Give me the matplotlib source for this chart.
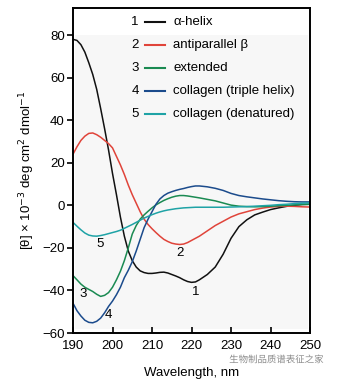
import matplotlib
matplotlib.use("Agg")
import matplotlib.pyplot as plt
import matplotlib.patheffects as pe
from matplotlib.lines import Line2D
from matplotlib.patches import Rectangle

plt.rcParams["font.family"] = ["Liberation Sans", "DejaVu Sans"]

# far-UV CD reference spectra, mean residue ellipticity (x 10^-3)
wavelength = list(range(190, 223)) + list(range(224, 251, 2))

alpha_helix = [78, 77.5, 75.5, 72, 67, 61.5, 54.5, 45.5, 36, 26, 15, 5, -5.5, -14.5,
               -21.5, -26, -29, -30.8, -31.6, -32, -32, -31.8, -31.5, -31.4, -31.8,
               -32.5, -33.2, -34, -35, -35.8, -36.2, -36, -35,
               -32.5, -29, -23, -15.5, -10, -6.8, -4.5, -3.2, -2, -1.2, -0.5, 0, 0.4, 0.5]
antiparallel = [24, 27.5, 30.5, 32.5, 33.8, 34, 33.2, 32, 30.5, 29, 27, 23, 19, 14.5,
                9.5, 5, 1, -3, -6.5, -9, -11, -12.8, -14.5, -16, -17, -17.8, -18.2,
                -18.4, -18.2, -17.5, -16.5, -15.5, -14.5,
                -12, -9.5, -7.5, -5.5, -4, -3, -2, -1.3, -0.8, -0.5, -0.4, -0.5, -0.7, -0.8]
extended = [-33, -35, -37, -38.5, -39.5, -40.5, -41.8, -42.8, -42.3, -41, -38.5, -35,
            -31, -26, -20, -13.5, -9.5, -6.5, -4.5, -2.8, -1.2, 0.2, 1.3, 2.3, 3.1,
            3.8, 4.3, 4.6, 4.6, 4.4, 4.1, 3.8, 3.5,
            2.8, 2.1, 1.1, 0.1, -0.4, -0.6, -0.7, -0.6, -0.4, -0.2, 0, 0.2, 0.4, 0.5]
collagen_triple = [-46, -49.5, -52, -54, -55, -55.2, -54.5, -53, -50.5, -47.5, -45,
                   -42, -38.5, -34, -30.5, -26.5, -21.5, -16, -10.5, -6.5, -3, 0.5,
                   3, 4.6, 5.7, 6.4, 7, 7.5, 7.9, 8.4, 8.8, 9.1, 9.1,
                   8.7, 8, 7, 5.6, 4.6, 4, 3.5, 3, 2.6, 2.2, 1.9, 1.7, 1.6, 1.6]
collagen_denat = [-8, -9.8, -11.5, -13, -14, -14.4, -14.5, -14.2, -13.8, -13.3, -12.8,
                  -12.3, -11.7, -10.8, -9.9, -9, -8, -7, -6, -5.2, -4.4, -3.7, -3.1,
                  -2.6, -2.2, -1.9, -1.6, -1.4, -1.2, -1.1, -1, -0.9, -0.9,
                  -0.9, -0.9, -0.9, -0.8, -0.7, -0.6, -0.4, -0.2, 0, 0.3, 0.5, 0.8, 1, 1.2]

series = [alpha_helix, antiparallel, extended, collagen_triple, collagen_denat]
names = ["\u03b1-helix", "antiparallel \u03b2", "extended",
         "collagen (triple helix)", "collagen (denatured)"]
colors = ["#111111", "#e0443a", "#1a8a52", "#1b4b8c", "#1fa3a6"]
# curve number tags placed next to each trace
tag_pos = [(221.1, -40.6), (217.1, -22.3), (192.6, -41.5), (198.9, -51.5), (196.8, -18.4)]

fig = plt.figure(figsize=(3.37, 3.84), dpi=100)
ax = fig.add_axes([0.2166, 0.1328, 0.7034, 0.8462])

ax.add_patch(Rectangle((190.4, -58), 59.2, 138, facecolor="#f7f7f7",
                       edgecolor="none", zorder=0))

for i, (vals, c) in enumerate(zip(series, colors)):
    ax.plot(wavelength, vals, color=c, linewidth=1.1, zorder=2)
    ax.text(*tag_pos[i], str(i + 1), fontsize=9.5, ha="center", va="center", zorder=3)

# numbered key, drawn by hand so the number sits before the line sample
rows = [0.957, 0.886, 0.815, 0.745, 0.674]
for i, (name, c) in enumerate(zip(names, colors)):
    y = rows[i]
    ax.text(0.262, y, str(i + 1), transform=ax.transAxes, fontsize=9.5,
            ha="center", va="center")
    ax.add_line(Line2D([0.304, 0.388], [y, y], transform=ax.transAxes,
                       color=c, linewidth=1.5))
    ax.text(0.422, y, name, transform=ax.transAxes, fontsize=9.5,
            ha="left", va="center")

ax.set_xlim(190, 250)
ax.set_ylim(-60, 92.7)
ax.set_xticks(range(190, 251, 10))
ax.set_yticks(range(-60, 81, 20))
ax.set_yticklabels([f"\u2212{-v}" if v < 0 else str(v) for v in range(-60, 81, 20)])
ax.tick_params(axis="x", direction="in", length=4, width=1.2, labelsize=9.5, pad=5)
ax.tick_params(axis="y", direction="out", length=4, width=1.2, labelsize=9.5, pad=2)
for s in ax.spines.values():
    s.set_linewidth(1.4)

ax.set_xlabel("Wavelength, nm", fontsize=9.5, labelpad=11)
ax.set_ylabel("[\u03b8] \u00d7 10$^{\u22123}$ deg cm$^2$ dmol$^{\u22121}$", fontsize=9.5,
              labelpad=4)

fig.text(0.68, 0.063, "\u751f\u7269\u5236\u54c1\u8d28\u8c31\u8868\u5f81\u4e4b\u5bb6",
         fontsize=6.8, color="#8a8a8a", family=["Noto Sans CJK SC", "DejaVu Sans"],
         ha="left", va="center",
         path_effects=[pe.withStroke(linewidth=2, foreground="white")])

fig.savefig("out.png", dpi=100)
